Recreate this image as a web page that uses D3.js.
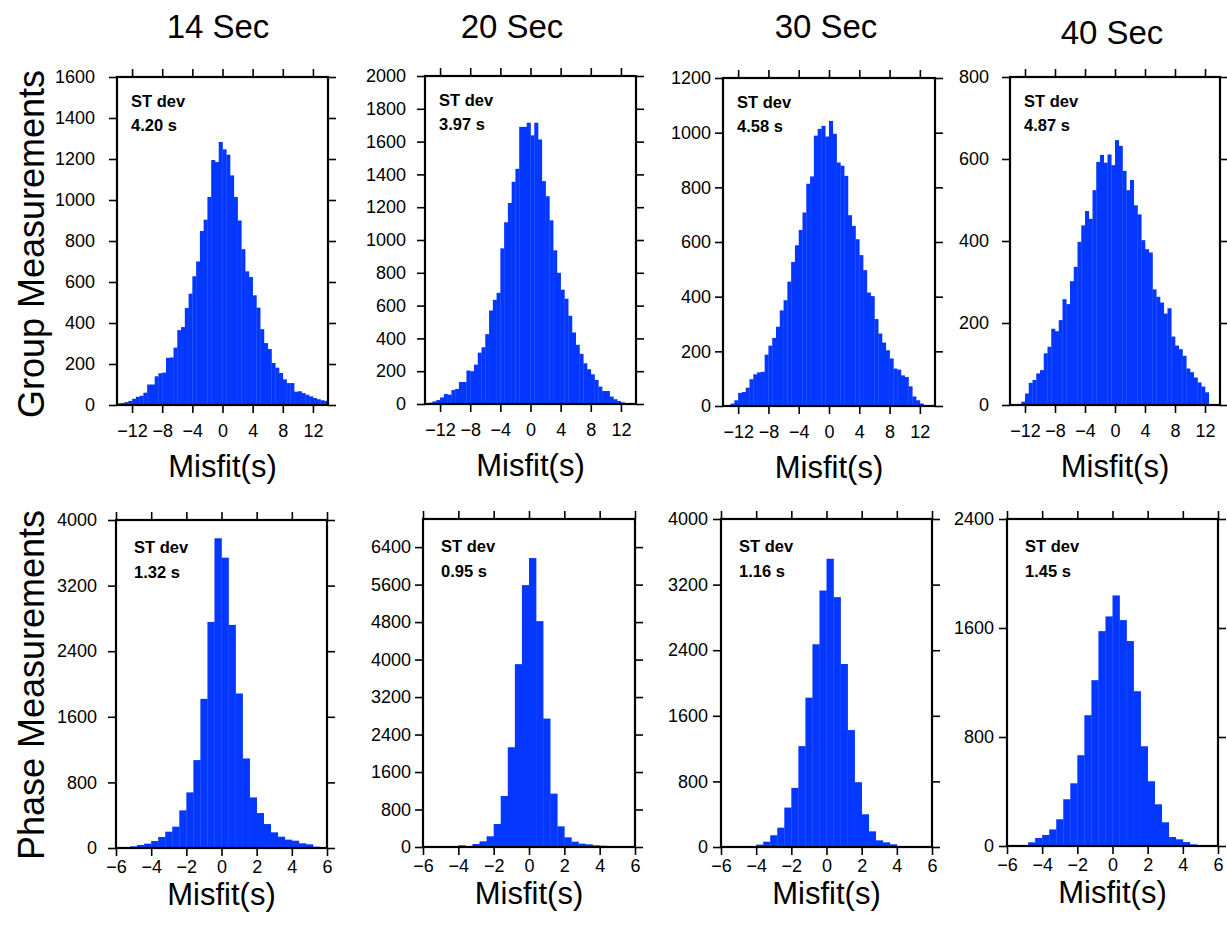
<!DOCTYPE html>
<html>
<head>
<meta charset="utf-8">
<script src="https://cdn.jsdelivr.net/npm/d3@7"></script>
<style>
  html, body { margin: 0; padding: 0; background: #fff; }
  svg { display: block; }
  text { font-family: "Liberation Sans", Arial, Helvetica, sans-serif; }
</style>
</head>
<body>
<svg id="chart" width="1227" height="931"></svg>
<script>
// ---------------- DATA ----------------
const periods = ["14 Sec", "20 Sec", "30 Sec", "40 Sec"];
const rowLabels = ["Group Measurements", "Phase Measurements"];
const xLabel = "Misfit(s)";
const stLabel = "ST dev";

// Group-measurement histograms: bins 0.5 s wide starting at -14 s
const groupBinStart = -14, groupBinWidth = 0.5;
const group14 = [8,10,14,20,30,40,45,60,100,100,140,155,158,230,232,280,365,380,473,543,628,700,849,904,1015,1195,1185,1283,1247,1221,1120,1015,900,760,652,624,535,475,370,302,273,205,182,156,125,107,107,65,67,58,50,42,34,28,23,20];
const group20 = [5,8,16,24,40,61,57,85,92,134,134,204,200,240,313,346,426,570,635,678,949,1108,1226,1355,1434,1690,1690,1715,1638,1715,1613,1359,1267,1120,937,800,697,642,538,436,361,306,248,212,181,147,106,79,79,45,29,18,10,4,0,0];
const group30 = [0,0,9,21,48,51,67,98,116,123,125,188,221,249,290,350,387,455,527,588,644,708,813,840,989,1014,1025,986,1043,996,891,879,842,698,659,610,552,497,415,402,318,265,232,204,174,137,133,112,106,72,35,21,9,2,0,0];
const group40 = [0,0,0,8,28,54,61,77,85,126,142,186,180,207,258,246,302,337,398,438,473,454,524,593,610,591,611,585,646,632,571,524,549,487,465,402,380,372,282,264,250,223,236,167,145,136,120,89,80,67,55,45,31,0,0,0];

// Phase-measurement histograms: bins 0.4 s wide starting at -6 s
const phaseBinStart = -6, phaseBinWidth = 0.4;
const phase14 = [3,5,20,37,53,85,134,199,260,459,678,1072,1819,2757,3777,3541,2721,1884,1092,617,426,292,191,138,102,89,57,45,16,12];
const phase20 = [0,0,0,3,14,36,21,64,121,228,491,1089,2129,3902,5589,6166,4820,2741,1139,441,206,114,71,57,36,28,7,0,0,0];
const phase30 = [0,0,0,0,8,29,65,143,236,481,721,1230,1821,2472,3128,3515,3047,2232,1426,790,399,191,81,57,33,4,0,0,0,0];
const phase40 = [0,0,2,27,59,81,122,196,343,460,666,960,1217,1577,1685,1839,1658,1504,1136,732,475,306,174,66,49,29,12,0,0,0];

const groupStd = ["4.20 s", "3.97 s", "4.58 s", "4.87 s"];
const phaseStd = ["1.32 s", "0.95 s", "1.16 s", "1.45 s"];

const groupYMax = [1600, 2000, 1200, 800];
const phaseYMax = [4000, 7000, 4000, 2400];
const groupYStep = 200, phaseYStep = 800;
const groupYTop = [1600, 2000, 1200, 800];
const phaseYTop = [4000, 6400, 4000, 2400];

const groupXDomain = [-14, 14];
const phaseXDomain = [-6, 6];
const groupXTicks = [-12, -8, -4, 0, 4, 8, 12];
const phaseXTicks = [-6, -4, -2, 0, 2, 4, 6];

// ---------------- LAYOUT ----------------
const svg = d3.select("#chart");
const barColor = "#0437ff";
const FONT = '"Liberation Sans", Arial, Helvetica, sans-serif';
const fmt = d3.format("d");

const frames = [
  // top row
  {x: 117, y: 77, w: 211, h: 328, gap: 10},
  {x: 425, y: 76, w: 211, h: 328, gap: 7},
  {x: 723, y: 78, w: 212, h: 328, gap: 0},
  {x: 1010, y: 77, w: 210, h: 328, gap: 9},
  // bottom row
  {x: 116, y: 520, w: 211, h: 328, gap: 7},
  {x: 423, y: 519, w: 212, h: 328, gap: 0},
  {x: 721, y: 519, w: 211, h: 328, gap: 1},
  {x: 1007, y: 519, w: 211, h: 327, gap: 1}
];

const groupSeries = [group14, group20, group30, group40];
const phaseSeries = [phase14, phase20, phase30, phase40];

function drawPanel(idx, values, binStart, binWidth, xDomain, xTicks, yMax, yStep, yTop, stdText, row) {
  const f = frames[idx];
  const g = svg.append("g").attr("transform", `translate(${f.x},${f.y})`);
  const x = d3.scaleLinear().domain(xDomain).range([0, f.w]);
  const y = d3.scaleLinear().domain([0, yMax]).range([f.h, 0]);
  const bins = values.map((v, i) => ({x0: binStart + i * binWidth, x1: binStart + (i + 1) * binWidth, v}));

  g.selectAll("rect.bar").data(bins.filter(d => d.v > 0)).enter().append("rect")
    .attr("class", "bar")
    .attr("x", d => x(d.x0))
    .attr("width", d => x(d.x1) - x(d.x0) + 0.3)
    .attr("y", d => y(d.v))
    .attr("height", d => y(0) - y(d.v))
    .attr("fill", barColor);

  const yTicks = d3.range(0, yTop + 1, yStep);
  const tickLen = 8;

  const axL = g.append("g").call(d3.axisLeft(y).tickValues(yTicks).tickSize(tickLen).tickPadding(4 + f.gap).tickFormat(fmt));
  const axR = g.append("g").attr("transform", `translate(${f.w},0)`).call(d3.axisRight(y).tickValues(yTicks).tickSize(tickLen).tickFormat(""));
  const xOff = row === 0 ? 11 : 4;
  const axB = g.append("g").attr("transform", `translate(0,${f.h})`).call(d3.axisBottom(x).tickValues(xTicks).tickSize(tickLen).tickPadding(xOff).tickFormat(fmt));
  const axT = g.append("g").call(d3.axisTop(x).tickValues(xTicks).tickSize(tickLen).tickFormat(""));
  [axL, axR, axB, axT].forEach(a => {
    a.select(".domain").remove();
    a.attr("font-size", 18).attr("font-family", FONT);
    a.selectAll(".tick line").attr("stroke", "#000").attr("stroke-width", 1.6);
    a.selectAll("text").attr("font-family", FONT).attr("font-size", 18).attr("fill", "#000");
  });

  g.append("rect").attr("x", 0).attr("y", 0).attr("width", f.w).attr("height", f.h)
    .attr("fill", "none").attr("stroke", "#000").attr("stroke-width", 2.2);

  const sx = row === 0 ? 14 : 18;
  const sy1 = row === 0 ? 30 : 33;
  const sy2 = row === 0 ? 54 : 58;
  g.append("text").attr("x", sx).attr("y", sy1).attr("font-size", 16.5).attr("font-weight", "bold").text(stLabel);
  g.append("text").attr("x", sx).attr("y", sy2).attr("font-size", 16.5).attr("font-weight", "bold").text(stdText);

  // x label
  g.append("text").attr("x", f.w / 2).attr("y", f.h + (row === 0 ? 72 : 57))
    .attr("text-anchor", "middle").attr("font-size", 31).text(xLabel);
}

for (let i = 0; i < 4; i++) {
  drawPanel(i, groupSeries[i], groupBinStart, groupBinWidth, groupXDomain, groupXTicks,
    groupYMax[i], groupYStep, groupYTop[i], groupStd[i], 0);
  drawPanel(i + 4, phaseSeries[i], phaseBinStart, phaseBinWidth, phaseXDomain, phaseXTicks,
    phaseYMax[i], phaseYStep, phaseYTop[i], phaseStd[i], 1);
}

// column titles
const titlePos = [{x: 218, y: 38}, {x: 512, y: 38}, {x: 826, y: 38}, {x: 1112, y: 44}];
periods.forEach((t, i) => {
  svg.append("text").attr("x", titlePos[i].x).attr("y", titlePos[i].y)
    .attr("text-anchor", "middle").attr("font-size", 33).text(t);
});

// row labels
const rowPos = [{x: 44, y: 244}, {x: 44, y: 685}];
rowLabels.forEach((t, i) => {
  svg.append("text").attr("transform", `translate(${rowPos[i].x},${rowPos[i].y}) rotate(-90)`)
    .attr("text-anchor", "middle").attr("font-size", 36).text(t);
});
</script>
</body>
</html>
